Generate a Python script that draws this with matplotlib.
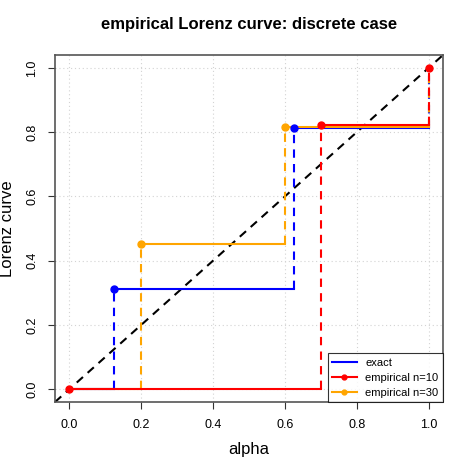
import numpy as np
import matplotlib
matplotlib.use('Agg')
import matplotlib.pyplot as plt
from matplotlib.lines import Line2D

plt.rcParams['font.family'] = ['Liberation Sans', 'DejaVu Sans']

# exact Lorenz curve (jump points)
exact_x = [0.0, 0.125, 0.625, 1.0]
exact_y = [0.0, 0.3125, 0.8125, 1.0]
# empirical n=10
emp10_x = [0.0, 0.7, 1.0]
emp10_y = [0.0, 0.823, 1.0]
# empirical n=30
emp30_x = [0.0, 0.2, 0.6, 1.0]
emp30_y = [0.0, 0.453, 0.817, 1.0]

col_exact = '#0000FF'
col10 = '#FF0000'
col30 = '#FFA500'

fig = plt.figure(figsize=(4.71, 4.71), dpi=100)
ax = fig.add_axes([0.1168, 0.1465, 0.8238, 0.7367])


def lorenz_steps(ax, x, y, col, dots=True):
    # horizontal pieces
    for i in range(len(x) - 1):
        ax.plot([x[i], x[i + 1]], [y[i], y[i]], color=col, lw=1.5, zorder=3)
    # vertical dashed jumps
    for i in range(1, len(x)):
        ax.plot([x[i], x[i]], [y[i - 1], y[i]], color=col, lw=1.5,
                ls=(0, (4, 3)), zorder=3)
    if dots:
        ax.plot(x, y, 'o', color=col, ms=5, zorder=4)


ax.set_xlim(-0.04, 1.04)
ax.set_ylim(-0.04, 1.04)
ticks = np.arange(0, 1.01, 0.2)
ax.set_xticks(ticks)
ax.set_yticks(ticks)
ax.set_xticklabels(['%.1f' % t for t in ticks], fontsize=9)
ax.set_yticklabels(['%.1f' % t for t in ticks], fontsize=9, rotation=90, va='center')
ax.grid(True, color='#d3d3d3', ls=(0, (1, 2.5)), lw=0.8)
ax.tick_params(length=5, width=0.8, colors='#333333', labelcolor='black', pad=7)
for s in ax.spines.values():
    s.set_color('#555555')
    s.set_linewidth(1.2)

ax.plot([-0.04, 1.04], [-0.04, 1.04], color='black', lw=1.5, ls=(0, (4, 3)), zorder=2)

lorenz_steps(ax, exact_x, exact_y, col_exact, dots=False)
ax.plot(exact_x[1:3], exact_y[1:3], 'o', color=col_exact, ms=5, zorder=4)
lorenz_steps(ax, emp30_x, emp30_y, col30, dots=False)
ax.plot(emp30_x[1:3], emp30_y[1:3], 'o', color=col30, ms=5, zorder=4)
lorenz_steps(ax, emp10_x, emp10_y, col10)

ax.set_title('empirical Lorenz curve: discrete case', fontsize=12, fontweight='bold', pad=19)
ax.set_xlabel('alpha', fontsize=12, labelpad=8)
ax.set_ylabel('Lorenz curve', fontsize=12, labelpad=8)

handles = [Line2D([], [], color=col_exact, lw=1.5),
           Line2D([], [], color=col10, lw=1.5, marker='o', ms=3.5),
           Line2D([], [], color=col30, lw=1.5, marker='o', ms=3.5)]
leg = ax.legend(handles, ['exact', 'empirical n=10', 'empirical n=30'],
                loc='lower right', bbox_to_anchor=(1.0, 0.0), fontsize=8,
                frameon=True, fancybox=False, borderaxespad=0, handlelength=2.2,
                handletextpad=0.8, labelspacing=0.45, borderpad=0.4)
leg.get_frame().set_edgecolor('black')
leg.get_frame().set_linewidth(0.8)

fig.savefig('out.png', dpi=100)
